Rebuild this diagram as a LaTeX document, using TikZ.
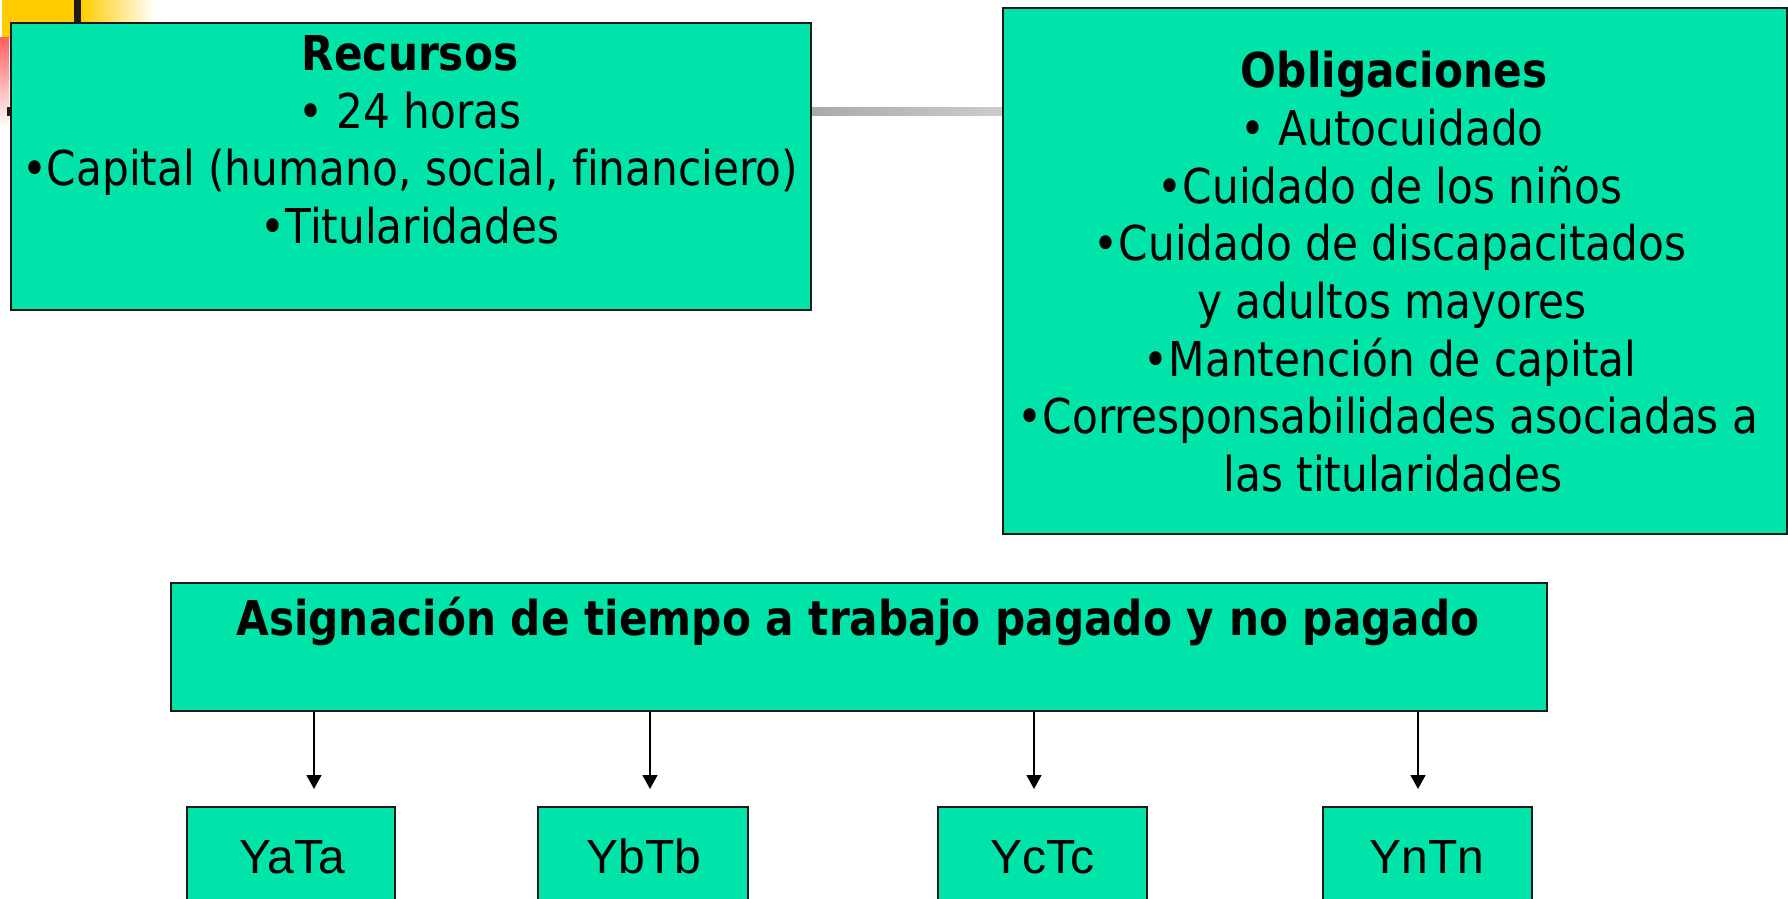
\documentclass[tikz,border=0pt]{standalone}
\usepackage{fontspec}
\setmainfont{DejaVu Sans}[FakeStretch=0.88, Ligatures=NoCommon]
\newfontfamily\arialfont{Liberation Sans}
\usetikzlibrary{arrows.meta}
\definecolor{mint}{RGB}{0,228,170}
\definecolor{gold}{RGB}{255,204,0}
\definecolor{edge}{RGB}{26,26,26}
\tikzset{
  box/.style={draw=edge, fill=mint, line width=1pt, inner sep=0pt, anchor=north west},
  smallbox/.style={draw=edge, fill=mint, line width=0.8pt, inner sep=0pt, anchor=north west,
    minimum height=60pt},
  txt/.style={anchor=base, inner sep=0pt, font=\fontsize{24}{28}\selectfont},
  ytxt/.style={anchor=base, inner sep=0pt, font=\arialfont\fontsize{24}{28}\selectfont},
  arr/.style={line width=0.75pt, -{Triangle[width=7.5pt,length=7pt]}}
}
\begin{document}
\begin{tikzpicture}[x=0.5pt,y=-0.5pt]
\useasboundingbox (0,0) rectangle (1788,899);
\fill[white] (0,0) rectangle (1788,899);
% corner decoration
\fill[gold] (2,0) rectangle (74,38);
\shade[left color=gold, right color=white] (81,0) rectangle (155,30);
\fill[edge] (74,0) rectangle (81,30);
\shade[top color=red!62, bottom color=white] (0,38) rectangle (9,128);
% gradient line behind the boxes
\shade[left color=black!90, right color=black!20] (7,108) rectangle (1002,116);
% boxes
\node[box, minimum width=400pt, minimum height=143.5pt] (rec) at (10,22) {};
\node[box, minimum width=392pt, minimum height=263pt] (obl) at (1002,7) {};
\node[box, minimum width=688pt, minimum height=64pt] (asg) at (170,582) {};
\node[smallbox, minimum width=104pt] (ya) at (186,806) {};
\node[smallbox, minimum width=105pt] (yb) at (537,806) {};
\node[smallbox, minimum width=104.5pt] (yc) at (937,806) {};
\node[smallbox, minimum width=104.5pt] (yn) at (1322,806) {};
% Recursos text
\node[txt] (r1) at (410,71) {\textbf{Recursos}};
\node[txt] (r2) at (410,128) {• 24 horas};
\node[txt] (r3) at (410,185.5) {•Capital (humano, social, financiero)};
\node[txt] (r4) at (410,243) {•Titularidades};
% Obligaciones text
\node[txt] (o1) at (1394,88) {\textbf{Obligaciones}};
\node[txt] (o2) at (1392,145.6) {• Autocuidado};
\node[txt] (o3) at (1390,203.2) {•Cuidado de los niños};
\node[txt] (o4) at (1390,260.8) {•Cuidado de discapacitados};
\node[txt] (o5) at (1392,318.4) {y adultos mayores};
\node[txt] (o6) at (1390,376) {•Mantención de capital};
\node[txt] (o7) at (1388,433.6) {•Corresponsabilidades asociadas a};
\node[txt] (o8) at (1393,491.2) {las titularidades};
% Asignacion text
\node[txt] (a1) at (858,635) {\textbf{Asignación de tiempo a trabajo pagado y no pagado}};
% small box labels
\node[ytxt] (yat) at (292,873) {YaTa};
\node[ytxt] (ybt) at (644,873) {YbTb};
\node[ytxt] (yct) at (1042,873) {YcTc};
\node[ytxt] (ynt) at (1427,873) {YnTn};
% arrows
\coordinate (ta) at (314,789);
\coordinate (tb) at (650,789);
\coordinate (tc) at (1034,789);
\coordinate (tn) at (1418,789);
\draw[arr] (asg.south -| ta) -- (ta);
\draw[arr] (asg.south -| tb) -- (tb);
\draw[arr] (asg.south -| tc) -- (tc);
\draw[arr] (asg.south -| tn) -- (tn);
\end{tikzpicture}
\end{document}
